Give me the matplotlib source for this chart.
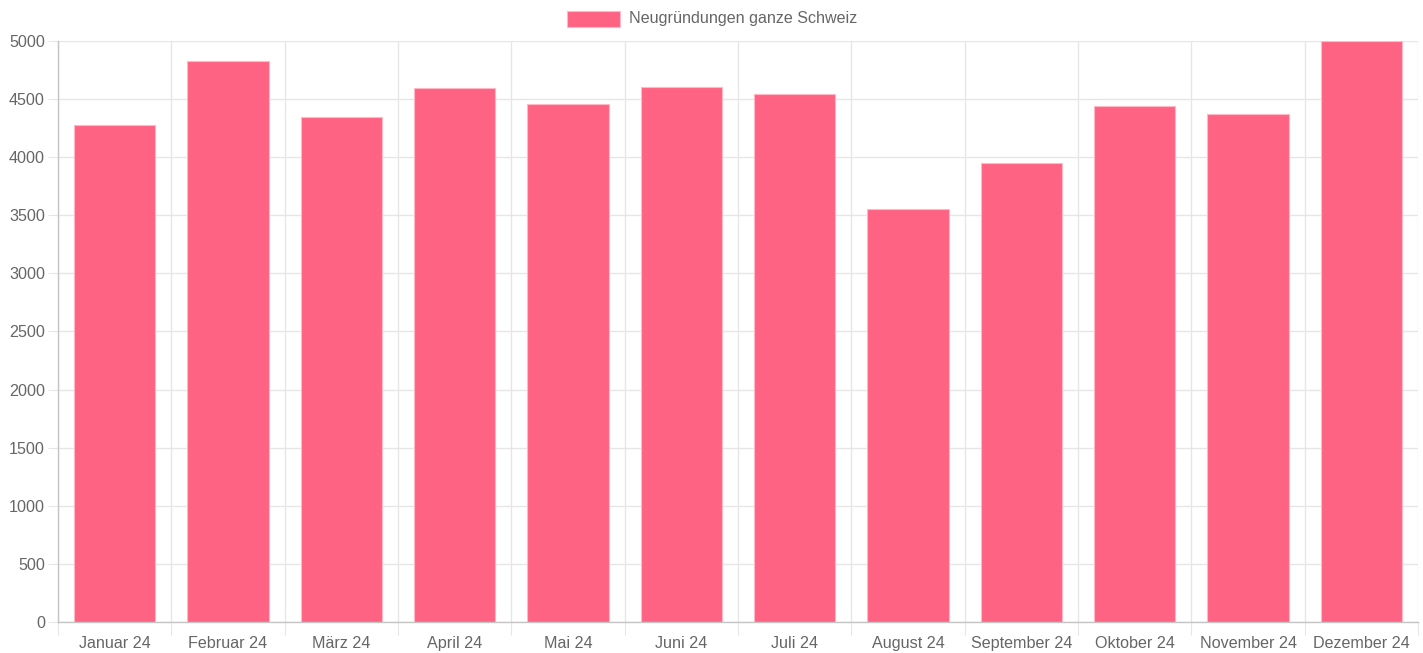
import matplotlib
matplotlib.use("Agg")
import matplotlib.pyplot as plt
from matplotlib.patches import Rectangle
import numpy as np

categories = ["Januar 24", "Februar 24", "März 24", "April 24", "Mai 24", "Juni 24",
              "Juli 24", "August 24", "September 24", "Oktober 24", "November 24", "Dezember 24"]
values = [4275, 4828, 4346, 4596, 4458, 4600, 4544, 3554, 3950, 4441, 4372, 5000]
series_label = "Neugründungen ganze Schweiz"
y_ticks = list(range(0, 5001, 500))

W, H = 1423, 653
DPI = 100
plt.rcParams['font.family'] = ['Liberation Sans', 'DejaVu Sans']
fig = plt.figure(figsize=(W / DPI, H / DPI), dpi=DPI)
fig.patch.set_facecolor("white")

left, right, top, bottom = 58, 1418, 41, 622
ax = fig.add_axes([left / W, (H - bottom) / H, (right - left) / W, (bottom - top) / H])

fill = "#ff6384"
edge = "#ffb8c6"
grid = "#e6e6e6"
axis_c = "#c4c4c4"
text_c = "#666666"
fs = 11.6

x = np.arange(len(categories))
ax.bar(x, values, width=0.72, color=fill, edgecolor=edge, linewidth=0.8, zorder=3)

ax.set_xlim(-0.5, len(categories) - 0.5)
ax.set_ylim(0, 5000)
ax.set_yticks(y_ticks)
ax.set_yticklabels([str(v) for v in y_ticks])
ax.set_xticks(x)
ax.set_xticklabels(categories)
ax.set_xticks(np.arange(len(categories) + 1) - 0.5, minor=True)

ax.grid(axis="y", which="major", color=grid, linewidth=1, zorder=0)
ax.grid(axis="x", which="minor", color=grid, linewidth=1, zorder=0)
ax.grid(axis="x", which="major", visible=False)

ax.tick_params(axis="y", which="major", length=7.2, width=0.8, color=grid,
               labelsize=fs, labelcolor=text_c, pad=2.2)
ax.tick_params(axis="x", which="major", length=0, labelsize=fs, labelcolor=text_c, pad=10)
ax.tick_params(axis="x", which="minor", length=9.4, width=0.8, color=grid)

for s in ["top", "right"]:
    ax.spines[s].set_visible(False)
for s in ["left", "bottom"]:
    ax.spines[s].set_color(axis_c)
    ax.spines[s].set_linewidth(1)
    ax.spines[s].set_zorder(4)

# legend
fig.patches.append(Rectangle((567 / W, (H - 27) / H), 53 / W, 16 / H,
                             transform=fig.transFigure, facecolor=fill,
                             edgecolor=edge, linewidth=0.8))
fig.text(629 / W, (H - 19) / H, series_label, fontsize=fs, color=text_c,
         ha="left", va="center")

fig.savefig("out.png", dpi=DPI, facecolor="white")
